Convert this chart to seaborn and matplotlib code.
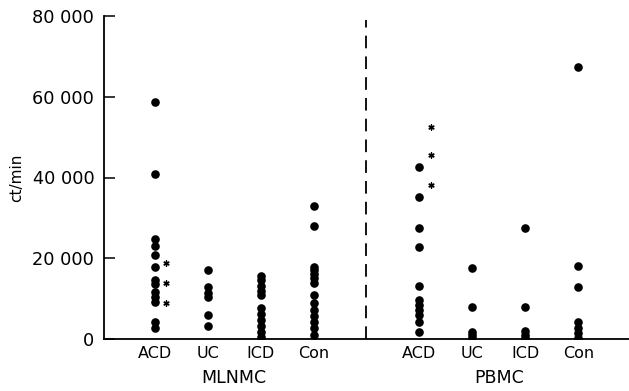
import matplotlib
matplotlib.use("Agg")
import matplotlib.pyplot as plt
import seaborn as sns
import pandas as pd
import numpy as np

sns.set_theme(style="white")
plt.rcParams['font.family'] = ['DejaVu Sans']
plt.rcParams['text.color'] = 'black'
plt.rcParams['xtick.color'] = 'black'
plt.rcParams['ytick.color'] = 'black'
plt.rcParams['axes.labelcolor'] = 'black'

# ---- data (ct/min) ----
mlnmc_acd = [58700, 40800, 24700, 23000, 20800, 17800, 14600, 13600, 11600, 10400, 9200, 4200, 2700]
mlnmc_uc = [17200, 12800, 11500, 10300, 6000, 3300]
mlnmc_icd = [15500, 14500, 13200, 12000, 11000, 7800, 6300, 4800, 3300, 1800, 500]
mlnmc_con = [33000, 28000, 17800, 17000, 16000, 15000, 13800, 11000, 9000, 7300, 5800, 4300, 2800, 1000]
pbmc_acd = [42700, 35200, 27500, 22800, 13100, 9600, 8400, 7200, 5900, 4200, 1700]
pbmc_uc = [17600, 7900, 1800, 1000, 300]
pbmc_icd = [27400, 7900, 2000, 1000, 300]
pbmc_con = [67400, 18000, 12900, 4200, 2700, 1500, 200]

mlnmc_acd_star = [18800, 13900, 8900]
pbmc_acd_star = [52500, 45500, 38100]

categories = ["ACD", "UC", "ICD", "Con"]
groups = ["MLNMC", "PBMC"]
yticks = [0, 20000, 40000, 60000, 80000]
ytick_labels = ["0", "20 000", "40 000", "60 000", "80 000"]

series = {
    ("MLNMC", "ACD"): mlnmc_acd, ("MLNMC", "UC"): mlnmc_uc,
    ("MLNMC", "ICD"): mlnmc_icd, ("MLNMC", "Con"): mlnmc_con,
    ("PBMC", "ACD"): pbmc_acd, ("PBMC", "UC"): pbmc_uc,
    ("PBMC", "ICD"): pbmc_icd, ("PBMC", "Con"): pbmc_con,
}
rows = []
for (g, c), vals in series.items():
    for v in vals:
        rows.append({"slot": f"{g}-{c}", "value": v})
df = pd.DataFrame(rows)
order = [f"{groups[0]}-{c}" for c in categories] + ["gap"] + [f"{groups[1]}-{c}" for c in categories]

fig = plt.figure(figsize=(6.29, 3.91), dpi=100)
ax = fig.add_axes([104/629, 1-339/391, 1-104/629, (339-16)/391])

sns.stripplot(data=df, x="slot", y="value", order=order, jitter=False,
              color="black", size=6.2, linewidth=0, ax=ax)

# asterisks
ax.scatter([0.22]*len(mlnmc_acd_star), mlnmc_acd_star, marker=(6, 2, 0), s=14, color="black", linewidths=1.0)
ax.scatter([5.22]*len(pbmc_acd_star), pbmc_acd_star, marker=(6, 2, 0), s=14, color="black", linewidths=1.0)

ax.axvline(4, ymin=0, ymax=0.988, color="black", lw=1.3, ls=(0, (7, 4.5)))

ax.set_xlim(-0.96, 8.96)
ax.set_ylim(0, 80000)
ax.set_yticks(yticks)
ax.set_yticklabels(ytick_labels, fontsize=12.8)
ax.set_xticks([0, 1, 2, 3, 5, 6, 7, 8])
ax.set_xticklabels(categories + categories, fontsize=11.5)
ax.tick_params(axis="y", direction="in", length=8, width=1.1, pad=7, left=True)
ax.tick_params(axis="x", length=0, pad=5)
ax.set_xlabel("")
ax.set_ylabel("ct/min", fontsize=11, labelpad=6)

for s in ["top", "right"]:
    ax.spines[s].set_visible(False)
for s in ["left", "bottom"]:
    ax.spines[s].set_color("black")
    ax.spines[s].set_linewidth(1.3)

ax.text(1.5, -0.12, groups[0], transform=ax.get_xaxis_transform(), ha="center", va="center", fontsize=12.5)
ax.text(6.5, -0.12, groups[1], transform=ax.get_xaxis_transform(), ha="center", va="center", fontsize=12.5)

fig.savefig("out.png", dpi=100)
